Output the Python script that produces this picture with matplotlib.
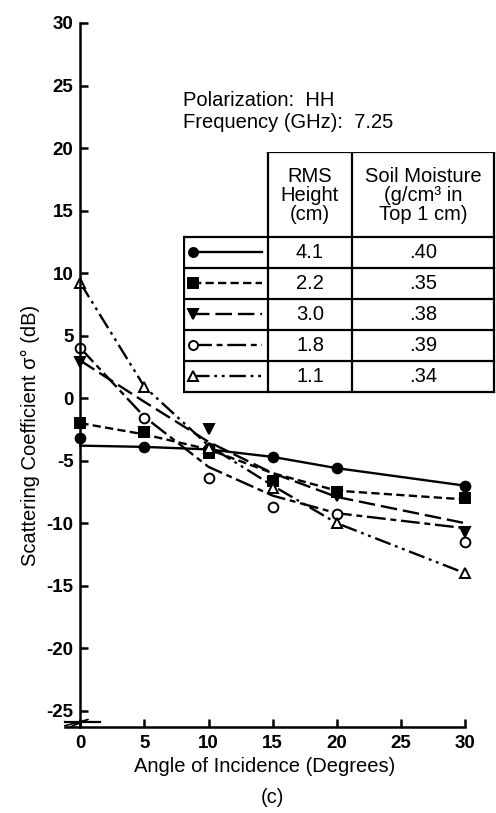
import matplotlib
matplotlib.use('Agg')
import matplotlib.pyplot as plt

plt.rcParams['font.family'] = ['Liberation Sans', 'DejaVu Sans']
plt.rcParams['axes.unicode_minus'] = False

# Angulos de incidencia (graus)
angles = [0, 5, 10, 15, 20, 30]

# Pontos medidos (dB) e curvas ajustadas
pts_41 = [-3.2, -3.9, -4.0, -4.7, -5.6, -7.0]
fit_41 = [-3.8, -3.9, -4.1, -4.7, -5.6, -7.0]
pts_22 = [-2.0, -2.7, -4.4, -6.6, -7.5, -8.0]
fit_22 = [-2.0, -2.9, -4.1, -6.0, -7.4, -8.1]
pts_30 = [2.9, -2.7, -2.5, -6.8, -7.8, -10.7]
fit_30 = [3.0, -0.3, -3.5, -6.0, -7.9, -10.0]
pts_18 = [4.0, -1.6, -6.4, -8.7, -9.3, -11.5]
fit_18 = [4.0, -1.5, -5.5, -7.8, -9.2, -10.4]
pts_11 = [9.2, 0.9, -4.0, -7.2, -10.0, -14.0]
fit_11 = [9.2, 0.9, -3.8, -7.0, -10.0, -14.0]

rms = ['4.1', '2.2', '3.0', '1.8', '1.1']
moist = ['.40', '.35', '.38', '.39', '.34']

styles = [
    dict(marker='o', mfc='black', ls='-'),
    dict(marker='s', mfc='black', ls=(0, (3.5, 1.8))),
    dict(marker='v', mfc='black', ls=(0, (7, 2.5))),
    dict(marker='o', mfc='white', ls=(0, (8, 2, 2.5, 2))),
    dict(marker='^', mfc='white', ls=(0, (7, 2, 1.2, 2, 1.2, 2))),
]
series = [(pts_41, fit_41), (pts_22, fit_22), (pts_30, fit_30),
          (pts_18, fit_18), (pts_11, fit_11)]

fs = 13.5    # numeros dos eixos
ft = 14.5    # textos

fig = plt.figure(figsize=(4.96, 8.13), dpi=100)
ax = fig.add_axes([65/496, 1 - 727/813, 400/496, 704/813])

for (pts, fit), st in zip(series, styles):
    ax.plot(angles, fit, color='black', lw=1.7, ls=st['ls'], clip_on=False)
    ax.plot(angles, pts, ls='none', marker=st['marker'], ms=7,
            mfc=st['mfc'], mec='black', mew=1.4, clip_on=False)

ax.set_xlim(-1.2, 30)
ax.set_ylim(-26.3, 30)
ax.spines['left'].set_position(('data', 0))
ax.spines['top'].set_visible(False)
ax.spines['right'].set_visible(False)
for s in ['left', 'bottom']:
    ax.spines[s].set_linewidth(1.8)
ax.set_xticks(range(0, 31, 5))
ax.set_yticks(range(-25, 31, 5))
ax.tick_params(direction='in', length=6, width=1.8, labelsize=fs)
for lab in ax.get_xticklabels() + ax.get_yticklabels():
    lab.set_fontweight('bold')
ax.tick_params(axis='y', pad=5)
ax.tick_params(axis='x', pad=6)

# simbolo de quebra do eixo
ax.plot([-1.2, 1.5], [-25.9, -25.9], color='black', lw=1.6, clip_on=False)
ax.plot([-1.2, 0.6, -0.8], [-26.2, -25.7, -26.3], color='black', lw=1.2, clip_on=False)

ax.set_xlabel('Angle of Incidence (Degrees)', fontsize=ft, labelpad=3)
fig.text(272/496, 1 - 797/813, '(c)', fontsize=ft, ha='center', va='center')
fig.text(30/496, 1 - 435/813, 'Scattering Coefficient σ° (dB)', fontsize=ft,
         rotation=90, ha='center', va='center')

fig.text(183/496, 1 - 100/813, 'Polarization:  HH', fontsize=ft, va='center')
fig.text(183/496, 1 - 123/813, 'Frequency (GHz):  7.25', fontsize=ft, va='center')

# tabela
tab = fig.add_axes([183/496, 1 - 394/813, 313/496, 242/813])
tab.set_xlim(183, 496)
tab.set_ylim(394, 152)
tab.axis('off')
lw = 1.6
x0, x1, x2, x3 = 184, 268, 352, 494
ytop, yh = 152, 237
rows = [237, 268, 299, 330, 361, 392]
tab.plot([x1, x3], [ytop, ytop], color='black', lw=lw)
for xv in [x1, x2, x3]:
    tab.plot([xv, xv], [ytop, rows[-1]], color='black', lw=lw)
tab.plot([x0, x0], [rows[0], rows[-1]], color='black', lw=lw)
for yv in rows:
    tab.plot([x0, x3], [yv, yv], color='black', lw=lw)
tab.text((x1 + x2) / 2, (ytop + yh) / 2 + 1, 'RMS\nHeight\n(cm)', fontsize=ft,
         ha='center', va='center', linespacing=1.0)
tab.text((x2 + x3) / 2, (ytop + yh) / 2 + 1, 'Soil Moisture\n(g/cm³ in\nTop 1 cm)',
         fontsize=ft, ha='center', va='center', linespacing=1.0)
for i, st in enumerate(styles):
    yc = (rows[i] + rows[i + 1]) / 2
    tab.plot([193, 262], [yc, yc], color='black', lw=1.7, ls=st['ls'])
    tab.plot([193], [yc], marker=st['marker'], ms=6.5, mfc=st['mfc'],
             mec='black', mew=1.4)
    tab.text((x1 + x2) / 2, yc, rms[i], fontsize=ft, ha='center', va='center')
    tab.text((x2 + x3) / 2, yc, moist[i], fontsize=ft, ha='center', va='center')

fig.savefig('out.png', dpi=100, facecolor='white')
